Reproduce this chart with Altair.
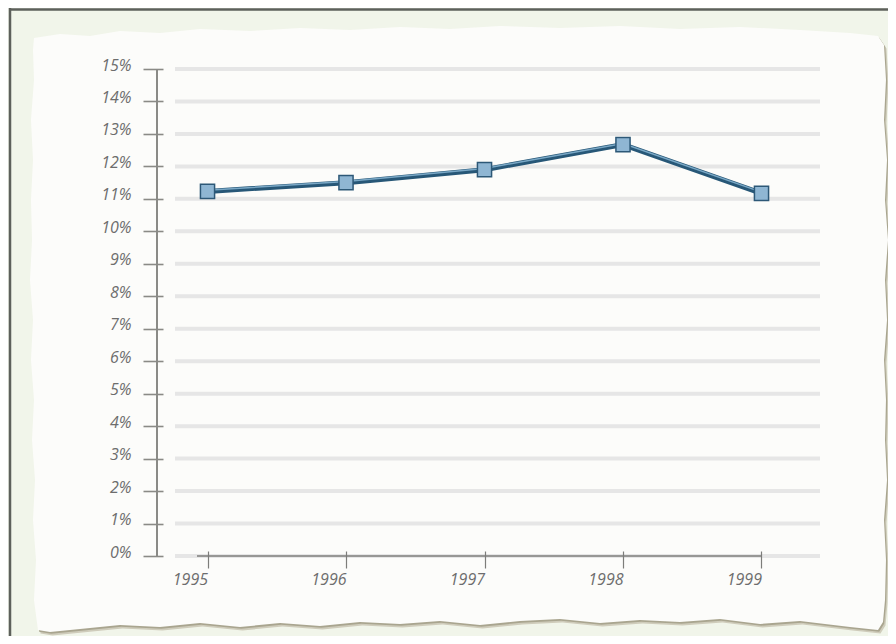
import altair as alt
import pandas as pd

# ---- data ----
years = [1995, 1996, 1997, 1998, 1999]
rates = [0.1123, 0.1150, 0.1190, 0.1267, 0.1117]
y_ticks = [i / 100 for i in range(0, 16)]

df = pd.DataFrame({"year": years, "rate": rates})
grid_df = pd.DataFrame({"rate": y_ticks})

# ---- layout constants (pixels) ----
W, H = 645, 487
PAD = {"left": 167, "top": 61, "right": 68, "bottom": 80}
FONT = "Open Sans"
FSIZE = 16
LABEL_COLOR = "#6d6d6d"
TICK_COLOR = "#8a8a86"

xscale = alt.Scale(domain=[1994.7653, 1999.4224], nice=False, zero=False)
yscale = alt.Scale(domain=[0, 0.15], nice=False, zero=True)

# ---- torn paper shape (decoration), page-pixel outline ----
paper_pts = [
    (34, 38), (60, 34), (90, 36), (120, 31), (160, 33), (200, 29), (250, 31), (300, 28),
    (350, 30), (400, 27), (450, 29), (500, 26), (560, 28), (620, 26), (680, 29), (740, 27),
    (800, 30), (850, 33), (878, 36),
    (884, 45), (886, 80), (884, 120), (887, 160), (885, 200), (888, 240), (885, 280),
    (887, 320), (884, 360), (886, 400), (885, 440), (887, 480), (884, 520), (886, 560),
    (885, 600), (883, 622), (878, 630),
    (850, 627), (800, 621), (760, 624), (720, 619), (680, 622), (640, 620), (600, 623),
    (560, 619), (520, 621), (480, 625), (440, 621), (400, 624), (360, 622), (320, 626),
    (280, 623), (240, 627), (200, 623), (160, 627), (120, 625), (80, 629), (50, 632), (38, 630),
    (34, 600), (36, 560), (33, 520), (35, 480), (32, 440), (34, 400), (31, 360), (33, 320),
    (30, 280), (32, 240), (31, 200), (33, 160), (31, 120), (34, 80), (33, 50),
]
CX, CY, HALF = 459.0, 328.0, 429.0
paper_path = "M" + " L".join(
    f"{(px - CX) / HALF:.4f},{(py - CY) / HALF:.4f}" for px, py in paper_pts
) + " Z"
paper_size = (2 * HALF) ** 2
pcx, pcy = CX - 175, CY - 69  # in plot coordinates

one = alt.Data(values=[{}])

shadow_outer = alt.Chart(one).mark_point(
    shape=paper_path, filled=True, color="#cfccbb", opacity=1, size=paper_size, strokeWidth=0
).encode(x=alt.value(pcx + 2.5), y=alt.value(pcy + 3.5))
shadow = alt.Chart(one).mark_point(
    shape=paper_path, filled=True, color="#a9a58f", opacity=1, size=paper_size, strokeWidth=0
).encode(x=alt.value(pcx + 1.2), y=alt.value(pcy + 1.8))

paper = alt.Chart(one).mark_point(
    shape=paper_path, filled=True, color="#fcfcfa", opacity=1, size=paper_size, strokeWidth=0
).encode(x=alt.value(pcx), y=alt.value(pcy))

frame_left = alt.Chart(one).mark_rule(color="#5d605b", strokeWidth=2.5).encode(
    x=alt.value(-165), y=alt.value(-61), y2=alt.value(H + PAD["bottom"])
)
frame_top = alt.Chart(one).mark_rule(color="#5d605b", strokeWidth=2.5).encode(
    y=alt.value(-59.5), x=alt.value(-166), x2=alt.value(W + PAD["right"])
)

y_line = alt.Chart(one).mark_rule(color=TICK_COLOR, strokeWidth=2).encode(
    x=alt.value(-18), y=alt.value(0), y2=alt.value(H)
)
x_line = alt.Chart(one).mark_rule(color="#7d7d7a", strokeWidth=1.5).encode(
    y=alt.value(H), x=alt.value(22), x2=alt.value(W - 58)
)

x_enc = alt.X(
    "year:Q",
    scale=xscale,
    axis=alt.Axis(
        values=years, format="d", offset=-5, tickSize=17, tickWidth=1.2,
        tickColor="#7d7d7a", domain=False, grid=False, labelAlign="right",
        labelBaseline="top", labelPadding=3, labelAngle=0, labelFont=FONT,
        labelFontStyle="italic", labelFontSize=FSIZE, labelColor=LABEL_COLOR,
        labelFlush=False, labelOverlap=False, title=None, zindex=1,
    ),
)
y_enc = alt.Y(
    "rate:Q",
    scale=yscale,
    axis=alt.Axis(
        values=y_ticks, format=".0%", offset=12, tickSize=20, tickWidth=1.6,
        tickColor=TICK_COLOR, domain=False, grid=False, labelPadding=12,
        labelBaseline="alphabetic", labelOffset=1, labelFont=FONT,
        labelFontStyle="italic", labelFontSize=FSIZE, labelColor=LABEL_COLOR,
        labelFlush=False, labelOverlap=False, title=None, zindex=1,
    ),
)

grid = alt.Chart(grid_df).mark_rule(color="#e6e6e6", strokeWidth=4).encode(
    y=y_enc, x=alt.value(0), x2=alt.value(W),
)

line_base = alt.Chart(df).mark_line(color="#275777", strokeWidth=5).encode(x=x_enc, y=y_enc)
line_hi = alt.Chart(df).mark_line(color="#7aa8c6", strokeWidth=1.5, yOffset=-1.2).encode(
    x=x_enc, y=y_enc
)
points = alt.Chart(df).mark_square(
    size=200, fill="#8fb6d3", stroke="#2d5877", strokeWidth=1.5, opacity=1
).encode(x=x_enc, y=y_enc)

chart = alt.layer(
    frame_left, frame_top, shadow_outer, shadow, paper, grid, y_line, x_line,
    line_base, line_hi, points
).properties(
    width=W, height=H, padding=PAD, background="#f1f5ea",
    autosize=alt.AutoSizeParams(type="none"),
).configure_view(stroke=None)

chart.save("out.html", embed_options={"renderer": "svg", "actions": False})
